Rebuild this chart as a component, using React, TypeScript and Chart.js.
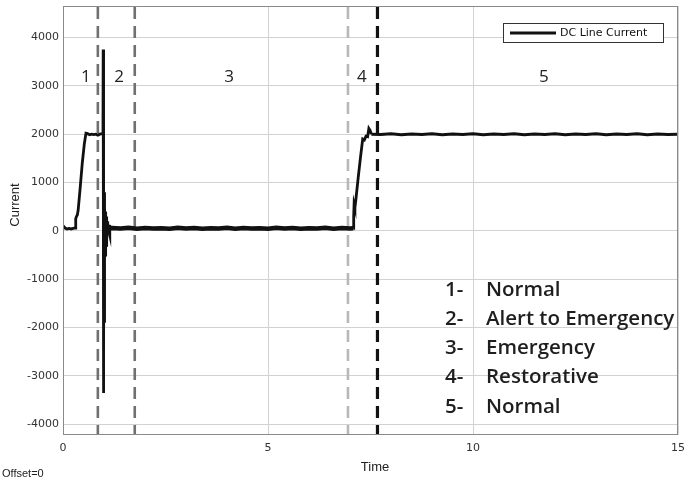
import React, { useEffect, useRef } from "react";
import { Chart, registerables } from "chart.js";
Chart.register(...registerables);

const seriesName = "DC Line Current";

const time = [
  0, 0.05, 0.1, 0.15, 0.2, 0.25, 0.3, 0.31, 0.33, 0.35, 0.37, 0.42, 0.47, 0.52, 0.56, 0.6, 0.65, 0.7, 0.75, 0.8, 0.85, 0.9, 0.95, 0.975,
  0.98, 0.985, 0.99, 0.995, 1.0, 1.005, 1.01, 1.016, 1.022, 1.03, 1.04, 1.05, 1.06, 1.07, 1.08, 1.09, 1.1, 1.12,
  1.2, 1.4, 1.6, 1.8, 2.0, 2.2, 2.4, 2.6, 2.8, 3.0, 3.2, 3.4, 3.6, 3.8, 4.0, 4.2, 4.4, 4.6, 4.8, 5.0, 5.2, 5.4, 5.6, 5.8, 6.0, 6.2, 6.4, 6.6, 6.8, 7.0, 7.08,
  7.09, 7.1, 7.12, 7.14, 7.2, 7.26, 7.31, 7.35, 7.39, 7.43, 7.46, 7.49, 7.52,
  7.75, 8.0, 8.25, 8.5, 8.75, 9.0, 9.25, 9.5, 9.75, 10.0, 10.25, 10.5, 10.75, 11.0, 11.25, 11.5, 11.75, 12.0, 12.25, 12.5, 12.75, 13.0, 13.25, 13.5, 13.75, 14.0, 14.25, 14.5, 14.75, 15.0,
];

const current = [
  110, 60, 40, 50, 40, 50, 60, 250, 300, 330, 430, 900, 1400, 1800, 2020, 2010, 1990, 2000, 1990, 2000, 1980, 2000, 2010, 2000,
  3750, -3350, 1000, -2400, 800, -1900, 600, -1000, 500, -500, 400, -300, 300, -150, 200, 0, 120, 50,
  60, 50, 65, 45, 60, 50, 55, 45, 65, 50, 60, 45, 55, 50, 65, 45, 60, 50, 55, 45, 65, 50, 60, 45, 55, 50, 65, 45, 60, 50, 55,
  300, 550, 480, 620, 1100, 1550, 1900, 1880, 1960, 1950, 2120, 2080, 2000,
  1995, 2010, 1990, 2005, 1995, 2010, 1990, 2005, 1995, 2010, 1990, 2005, 1995, 2010, 1990, 2005, 1995, 2010, 1990, 2005, 1995, 2010, 1990, 2005, 1995, 2010, 1990, 2005, 1995, 2000,
];

const xTicks = [0, 5, 10, 15];
const yTicks = [-4000, -3000, -2000, -1000, 0, 1000, 2000, 3000, 4000];

const boundaryTimes = [0.85, 1.75, 6.95, 7.67];
const boundaryColors = ["#707070", "#707070", "#b8b8b8", "#111111"];

const phaseLabels = ["1", "2", "3", "4", "5"];
const phaseLabelTimes = [0.56, 1.37, 4.05, 7.29, 11.73];
const phaseLabelLevel = 3180;

const phaseNumbers = ["1-", "2-", "3-", "4-", "5-"];
const phaseNames = ["Normal", "Alert to Emergency", "Emergency", "Restorative", "Normal"];

const overlay = {
  id: "overlay",
  beforeDatasetsDraw(chart: any) {
    const { ctx, chartArea: a, scales } = chart;
    const x = scales.x;
    ctx.save();
    boundaryTimes.forEach((t, i) => {
      const px = x.getPixelForValue(t);
      ctx.beginPath();
      ctx.setLineDash([12, 7]);
      ctx.lineWidth = i === 3 ? 3.2 : 2.6;
      ctx.strokeStyle = boundaryColors[i];
      ctx.moveTo(px, a.top + 1);
      ctx.lineTo(px, a.bottom - 1);
      ctx.stroke();
    });
    ctx.restore();
  },
  afterDraw(chart: any) {
    const { ctx, chartArea: a, scales } = chart;
    const x = scales.x;
    const y = scales.y;
    ctx.save();
    ctx.setLineDash([]);
    ctx.strokeStyle = "#8a8a8a";
    ctx.lineWidth = 1;
    ctx.strokeRect(a.left + 0.5, a.top + 0.5, a.right - a.left - 1, a.bottom - a.top - 1);

    ctx.fillStyle = "#222";
    ctx.font = "17px 'Open Sans'";
    ctx.textAlign = "center";
    ctx.textBaseline = "middle";
    phaseLabels.forEach((l, i) => {
      ctx.fillText(l, x.getPixelForValue(phaseLabelTimes[i]), y.getPixelForValue(phaseLabelLevel));
    });

    const bw = 160, bh = 19;
    const bx = a.right - 15 - bw, by = a.top + 17;
    ctx.fillStyle = "#fff";
    ctx.fillRect(bx, by, bw, bh);
    ctx.strokeStyle = "#333";
    ctx.lineWidth = 1;
    ctx.strokeRect(bx + 0.5, by + 0.5, bw, bh);
    ctx.beginPath();
    ctx.strokeStyle = "#111";
    ctx.lineWidth = 3;
    ctx.moveTo(bx + 7, by + bh / 2 + 0.5);
    ctx.lineTo(bx + 53, by + bh / 2 + 0.5);
    ctx.stroke();
    ctx.fillStyle = "#111";
    ctx.font = "11px 'DejaVu Sans'";
    ctx.textAlign = "left";
    ctx.fillText(seriesName, bx + 57, by + bh / 2 + 1);

    ctx.font = "600 20.5px 'Open Sans'";
    ctx.fillStyle = "#1e1e1e";
    phaseNames.forEach((n, i) => {
      const ty = 290 + i * 29.2;
      ctx.fillText(phaseNumbers[i], 445, ty);
      ctx.fillText(n, 486, ty);
    });

    ctx.fillStyle = "#222";
    ctx.font = "13px 'Liberation Sans'";
    ctx.textAlign = "center";
    ctx.fillText("Time", 375, 467);
    ctx.save();
    ctx.translate(15, 205);
    ctx.rotate(-Math.PI / 2);
    ctx.fillText("Current", 0, 0);
    ctx.restore();
    ctx.font = "11px 'Liberation Sans'";
    ctx.textAlign = "left";
    ctx.fillText("Offset=0", 2, 474);
    ctx.restore();
  },
};

export default function App() {
  const ref = useRef<HTMLCanvasElement | null>(null);
  useEffect(() => {
    document.body.style.margin = "0";
    const canvas = ref.current!;
    const chart = new Chart(canvas, {
      type: "line",
      data: {
        datasets: [
          {
            label: seriesName,
            data: time.map((t, i) => ({ x: t, y: current[i] })),
            borderColor: "#111",
            borderWidth: 2.8,
            pointRadius: 0,
            tension: 0,
            fill: false,
            segment: {
              borderWidth: (c: any) => {
                const t0 = c.p0.parsed.x;
                if (t0 >= 1.1 && t0 < 7.08) return 4.5;
                if (t0 >= 7.52) return 3;
                return 2.8;
              },
            },
          },
        ],
      },
      options: {
        animation: false,
        responsive: false,
        maintainAspectRatio: false,
        layout: { padding: { top: 6, right: 9, left: 0, bottom: 0 } },
        plugins: { legend: { display: false }, tooltip: { enabled: false } },
        scales: {
          x: {
            type: "linear",
            min: 0,
            max: 15,
            afterBuildTicks: (s: any) => {
              s.ticks = xTicks.map((v) => ({ value: v }));
            },
            ticks: {
              color: "#333",
              font: { family: "'DejaVu Sans'", size: 11 },
              padding: 7,
              maxRotation: 0,
              autoSkip: false,
              callback: (v: any) => String(v),
            },
            grid: { color: "#d2d2d2", drawTicks: false, lineWidth: 1 },
            border: { display: false },
            afterFit: (s: any) => {
              s.height = 47;
              s.paddingLeft = 0;
              s.paddingRight = 0;
            },
          },
          y: {
            type: "linear",
            min: -4220,
            max: 4650,
            afterBuildTicks: (s: any) => {
              s.ticks = yTicks.map((v) => ({ value: v }));
            },
            ticks: {
              color: "#333",
              font: { family: "'DejaVu Sans'", size: 11 },
              padding: 4,
              autoSkip: false,
              callback: (v: any) => String(v),
            },
            grid: { color: "#d2d2d2", drawTicks: false, lineWidth: 1 },
            border: { display: false },
            afterFit: (s: any) => {
              s.width = 63;
              s.paddingTop = 0;
              s.paddingBottom = 0;
            },
          },
        },
      },
      plugins: [overlay],
    } as any);
    return () => chart.destroy();
  }, []);
  return (
    <div style={{ position: "absolute", left: 0, top: 0, width: 687, height: 482 }}>
      <canvas ref={ref} width={687} height={482} style={{ width: 687, height: 482, display: "block" }} />
    </div>
  );
}
